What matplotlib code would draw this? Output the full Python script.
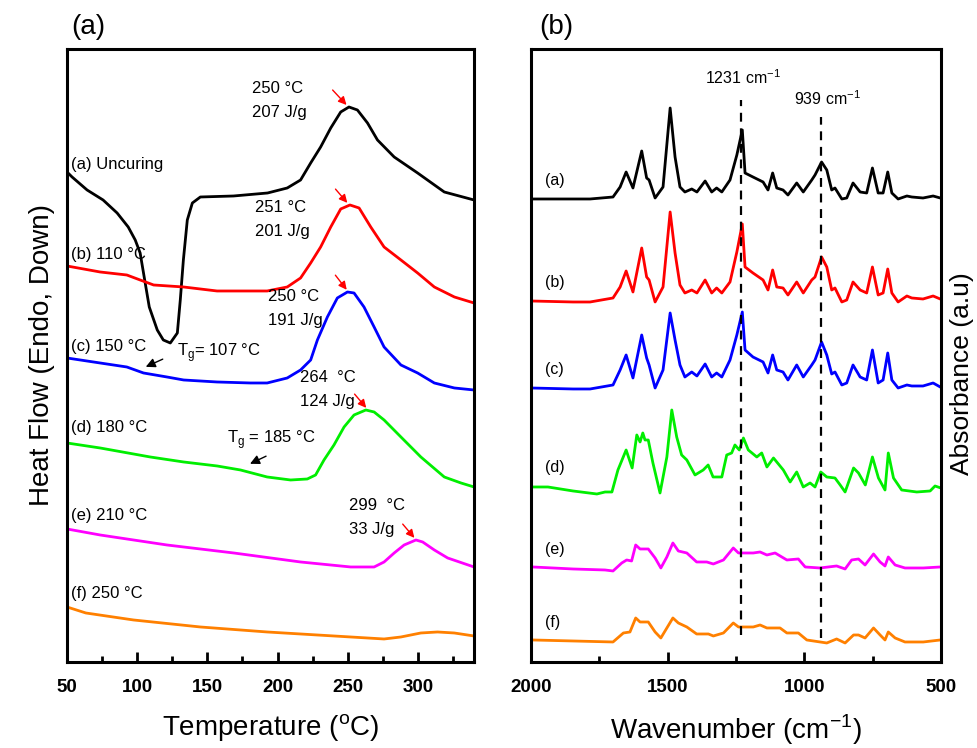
import matplotlib.pyplot as plt
from matplotlib.ticker import MultipleLocator

plt.rcParams['font.family'] = ['Liberation Sans', 'DejaVu Sans']

# ---- DSC data (temperature in C, heat flow in arbitrary units) ----
T_a = [50, 53.6, 64.3, 75.7, 85.7, 93.6, 98.6, 102.1, 105.7, 108.6, 114.3, 118.6, 123.6, 128.6, 130.7,
       132.9, 135.7, 139.3, 145, 168.6, 192.9, 206.9, 216.4, 223.6, 230.7, 237.9, 245, 250.9, 256.9,
       264.1, 271.2, 283.1, 299.8, 318.8, 340]
hf_a = [490, 485, 472, 462, 449, 435, 422, 409, 379, 355, 332, 322, 319, 329, 362, 402, 442, 459, 465,
        466, 469, 474, 482, 499, 515, 534, 550, 555, 552, 539, 522, 505, 489, 470, 462]
T_b = [50, 73.6, 92.6, 102.1, 111.7, 133.1, 156.9, 192.6, 206.9, 216.4, 223.6, 230.7, 237.9, 245,
       251.6, 258.1, 266.4, 275.9, 287.9, 299.8, 311.7, 326, 340]
hf_b = [396, 390, 387, 382, 377, 375, 371, 371, 375, 384, 399, 415, 435, 453, 457, 454, 435, 415, 402,
        389, 375, 365, 359]
T_c = [50, 73.6, 92.6, 104.5, 121.2, 133.1, 156.9, 180.7, 192.6, 206.9, 216.4, 223.6, 228.4, 235.5,
       242.6, 249.8, 254.5, 261.6, 268.8, 275.9, 287.9, 299.8, 311.7, 326, 340]
hf_c = [304, 299, 295, 289, 285, 282, 280, 279, 279, 284, 292, 302, 322, 345, 364, 370, 369, 355, 335,
        315, 297, 289, 279, 274, 272]
T_d = [50, 73.6, 109.3, 133.1, 157, 173.6, 192.6, 209.3, 221.2, 227.1, 233.1, 240.2, 247.4, 254.5,
       262.9, 268.8, 275.9, 287.9, 302.1, 318.8, 330.7, 340]
hf_d = [219, 214, 205, 200, 196, 192, 185, 182, 183, 187, 202, 217, 235, 247, 252, 250, 242, 225, 205,
        185, 179, 175]
T_e = [50, 73.6, 121.2, 168.8, 216.4, 252.1, 268.8, 275.9, 283.1, 290.2, 298.6, 303.4, 311.7, 321.2, 340]
hf_e = [133, 127, 117, 109, 100, 95, 95, 100, 109, 117, 122, 120, 112, 104, 95]
T_f = [50, 63.4, 97.4, 145, 192.6, 240.2, 275.9, 287.9, 302.1, 314, 325.9, 340]
hf_f = [55, 49, 42, 35, 30, 26, 23, 25, 29, 30, 29, 26]

dsc_labels = ['(a) Uncuring', '(b) 110 °C', '(c) 150 °C', '(d) 180 °C', '(e) 210 °C', '(f) 250 °C']
colors = ['black', 'red', 'blue', '#00ee00', '#ff00ff', '#ff8000']

# ---- FTIR data (wavenumber in cm-1, absorbance relative to baseline, a.u.) ----
wn_abc = [2000, 1846, 1784, 1700, 1674, 1652, 1627, 1595, 1577, 1568, 1546, 1517, 1491, 1473, 1455,
          1437, 1412, 1393, 1363, 1339, 1321, 1302, 1272, 1247, 1227, 1217, 1188, 1151, 1133, 1116,
          1101, 1078, 1060, 1028, 1004, 973, 961, 937, 918, 900, 888, 863, 845, 822, 796, 772, 751,
          730, 712, 695, 680, 657, 625, 607, 566, 529, 503]
abs_a = [0, 0, 0, 2, 12, 27, 11, 48, 21, 19, 1, 12, 91, 42, 12, 7, 10, 7, 18, 7, 11, 7, 19, 44, 69,
         26, 22, 17, 9, 26, 11, 9, 4, 16, 7, 19, 24, 37, 29, 9, 11, 0, 1, 16, 7, 6, 31, 6, 6, 27, 6, 0,
         3, 2, 1, 3, 1]
abs_b = [0, -1, -1, 3, 14, 30, 9, 53, 24, 21, -1, 14, 89, 48, 16, 8, 11, 8, 21, 8, 13, 8, 19, 49, 77,
         34, 28, 21, 11, 31, 14, 13, 6, 19, 8, 21, 24, 44, 34, 11, 13, -1, 1, 19, 11, 8, 34, 6, 8, 32,
         8, -1, 5, 3, 2, 5, 2]
abs_c = [0, -1, -1, 3, 18, 33, 10, 53, 30, 23, 0, 18, 75, 48, 23, 11, 16, 12, 24, 11, 15, 11, 28, 53,
         76, 38, 31, 26, 15, 33, 18, 16, 8, 23, 11, 23, 28, 46, 33, 14, 16, 3, 5, 23, 11, 8, 38, 5, 8,
         35, 8, 0, 3, 2, 2, 5, 1]
wn_d = [1993, 1938, 1846, 1759, 1729, 1704, 1682, 1652, 1630, 1613, 1601, 1591, 1583, 1571, 1554,
        1528, 1503, 1485, 1467, 1449, 1430, 1400, 1370, 1352, 1334, 1302, 1284, 1266, 1254, 1238,
        1223, 1205, 1174, 1156, 1137, 1113, 1077, 1052, 1028, 1004, 979, 961, 940, 918, 888, 869,
        851, 820, 802, 777, 751, 729, 705, 693, 674, 644, 589, 540, 522, 501]
abs_d = [0, 0, -4, -7, -5, -5, 17, 37, 19, 52, 45, 54, 47, 47, 24, -6, 30, 77, 50, 32, 27, 12, 17, 22,
         10, 10, 32, 34, 42, 37, 49, 37, 30, 34, 20, 29, 17, 5, 15, 0, 4, 0, 15, 10, 9, 2, -5, 19, 14,
         2, 30, 9, -3, 34, 9, -3, -5, -4, 1, -1]
wn_e = [1993, 1846, 1729, 1700, 1668, 1650, 1632, 1617, 1601, 1571, 1546, 1525, 1503, 1481, 1461,
        1430, 1394, 1357, 1333, 1296, 1260, 1241, 1187, 1162, 1137, 1107, 1064, 1022, 997, 943, 882,
        851, 827, 802, 778, 747, 723, 705, 693, 668, 632, 565, 503]
abs_e = [0, -2, -3, -4, 4, 7, 6, 22, 18, 18, 9, -1, 10, 24, 16, 14, 5, 5, 3, 7, 19, 14, 14, 15, 12,
         14, 7, 8, 0, -1, 1, -2, 7, 8, 2, 13, 5, 1, 10, 2, -1, -1, 0]
wn_f = [1993, 1846, 1700, 1662, 1638, 1617, 1601, 1571, 1546, 1525, 1503, 1481, 1461, 1430, 1394,
        1351, 1333, 1296, 1260, 1241, 1187, 1162, 1137, 1089, 1064, 1022, 991, 918, 882, 851, 820,
        802, 778, 747, 723, 705, 693, 668, 632, 565, 503]
abs_f = [0, -1, -2, 7, 8, 22, 18, 18, 8, 2, 12, 22, 17, 13, 6, 6, 4, 7, 17, 13, 13, 15, 12, 12, 7, 7,
         0, -3, 1, -3, 5, 5, 2, 12, 5, 0, 8, 2, -2, -2, 0]
ir_labels = ['(a)', '(b)', '(c)', '(d)', '(e)', '(f)']
ir_offsets = [463, 361, 274, 175, 95, 22]

fig = plt.figure(figsize=(9.77, 7.48), dpi=100)
ax1 = fig.add_axes([0.0686, 0.115, 0.4166, 0.8195])
ax2 = fig.add_axes([0.5435, 0.115, 0.4197, 0.8195])

# ---------------- (a) DSC ----------------
dsc = [(T_a, hf_a), (T_b, hf_b), (T_c, hf_c), (T_d, hf_d), (T_e, hf_e), (T_f, hf_f)]
for (t, h), c in zip(dsc, colors):
    ax1.plot(t, h, color=c, lw=2, solid_joinstyle='round')

lab_y = [497, 407, 315, 234, 146, 68]
for lab, y in zip(dsc_labels, lab_y):
    ax1.text(52.5, y, lab, fontsize=12, va='center', ha='left')

peaks = [("250 °C", "207 J/g", 182, 573, (237.9, 574), (250.5, 555)),
         ("251 °C", "201 J/g", 183.6, 454, (240, 475), (251, 457)),
         ("250 °C", "191 J/g", 192.9, 365, (240, 389), (250.5, 370)),
         ("264  °C", "124 J/g", 215.7, 284, (253.6, 270), (264.5, 252)),
         ("299  °C", "33 J/g", 250.7, 156, (287.9, 140), (298.8, 122))]
for t1, t2, x, y, p0, p1 in peaks:
    ax1.text(x, y, t1, fontsize=12, va='center')
    ax1.text(x, y - 24, t2, fontsize=12, va='center')
    ax1.annotate('', xy=p1, xytext=p0,
                 arrowprops=dict(arrowstyle='-|>', color='red', lw=1, mutation_scale=12))

ax1.text(128.6, 309, r"T$_\mathregular{g}$= 107 °C", fontsize=12, va='center')
ax1.annotate('', xy=(104.3, 294), xytext=(120, 304),
             arrowprops=dict(arrowstyle='-|>', color='black', lw=1, mutation_scale=14))
ax1.text(164.3, 222, r"T$_\mathregular{g}$ = 185 °C", fontsize=12, va='center')
ax1.annotate('', xy=(178.6, 197), xytext=(193.6, 207),
             arrowprops=dict(arrowstyle='-|>', color='black', lw=1, mutation_scale=14))

ax1.set_xlim(50, 340)
ax1.set_ylim(0, 613)
ax1.xaxis.set_major_locator(MultipleLocator(50))
ax1.xaxis.set_minor_locator(MultipleLocator(25))
ax1.set_yticks([])
ax1.set_xlabel(r"Temperature ($^\mathregular{o}$C)", fontsize=20, labelpad=12)
ax1.set_ylabel("Heat Flow (Endo, Down)", fontsize=20, labelpad=9)
ax1.text(0.01, 1.015, "(a)", transform=ax1.transAxes, fontsize=20, va='bottom')

# ---------------- (b) FTIR ----------------
spectra = [(wn_abc, abs_a), (wn_abc, abs_b), (wn_abc, abs_c), (wn_d, abs_d), (wn_e, abs_e), (wn_f, abs_f)]
for (w, a), off, c in zip(spectra, ir_offsets, colors):
    ax2.plot(w, [v + off for v in a], color=c, lw=2, solid_joinstyle='round')

ir_lab_y = [481, 379, 292, 194, 112, 39]
for lab, y in zip(ir_labels, ir_lab_y):
    ax2.text(1950, y, lab, fontsize=11.5, va='center', ha='left')

ax2.plot([1231, 1231], [27, 562], color='black', ls=(0, (4, 3)), lw=1.6)
ax2.plot([939, 939], [24, 545], color='black', ls=(0, (4, 3)), lw=1.6)
ax2.text(1224, 584, r"1231 cm$^\mathregular{-1}$", fontsize=11.5, ha='center', va='center')
ax2.text(917, 563, r"939 cm$^\mathregular{-1}$", fontsize=11.5, ha='center', va='center')

ax2.set_xlim(2000, 500)
ax2.set_ylim(0, 613)
ax2.xaxis.set_major_locator(MultipleLocator(500))
ax2.xaxis.set_minor_locator(MultipleLocator(250))
ax2.set_yticks([])
ax2.set_xlabel(r"Wavenumber (cm$^\mathregular{-1}$)", fontsize=20, labelpad=12)
ax2.yaxis.set_label_position('right')
ax2.set_ylabel("Absorbance (a.u)", fontsize=19, rotation=90)
ax2.yaxis.set_label_coords(1.022, 0.47)
ax2.text(0.02, 1.015, "(b)", transform=ax2.transAxes, fontsize=20, va='bottom')

for ax in (ax1, ax2):
    for s in ax.spines.values():
        s.set_linewidth(2.2)
    ax.tick_params(axis='x', which='major', direction='in', length=7, width=2,
                   labelsize=13.5, pad=12)
    ax.tick_params(axis='x', which='minor', direction='in', length=4, width=2)
    for lbl in ax.get_xticklabels():
        lbl.set_fontweight('bold')

fig.savefig("out.png", dpi=100)
